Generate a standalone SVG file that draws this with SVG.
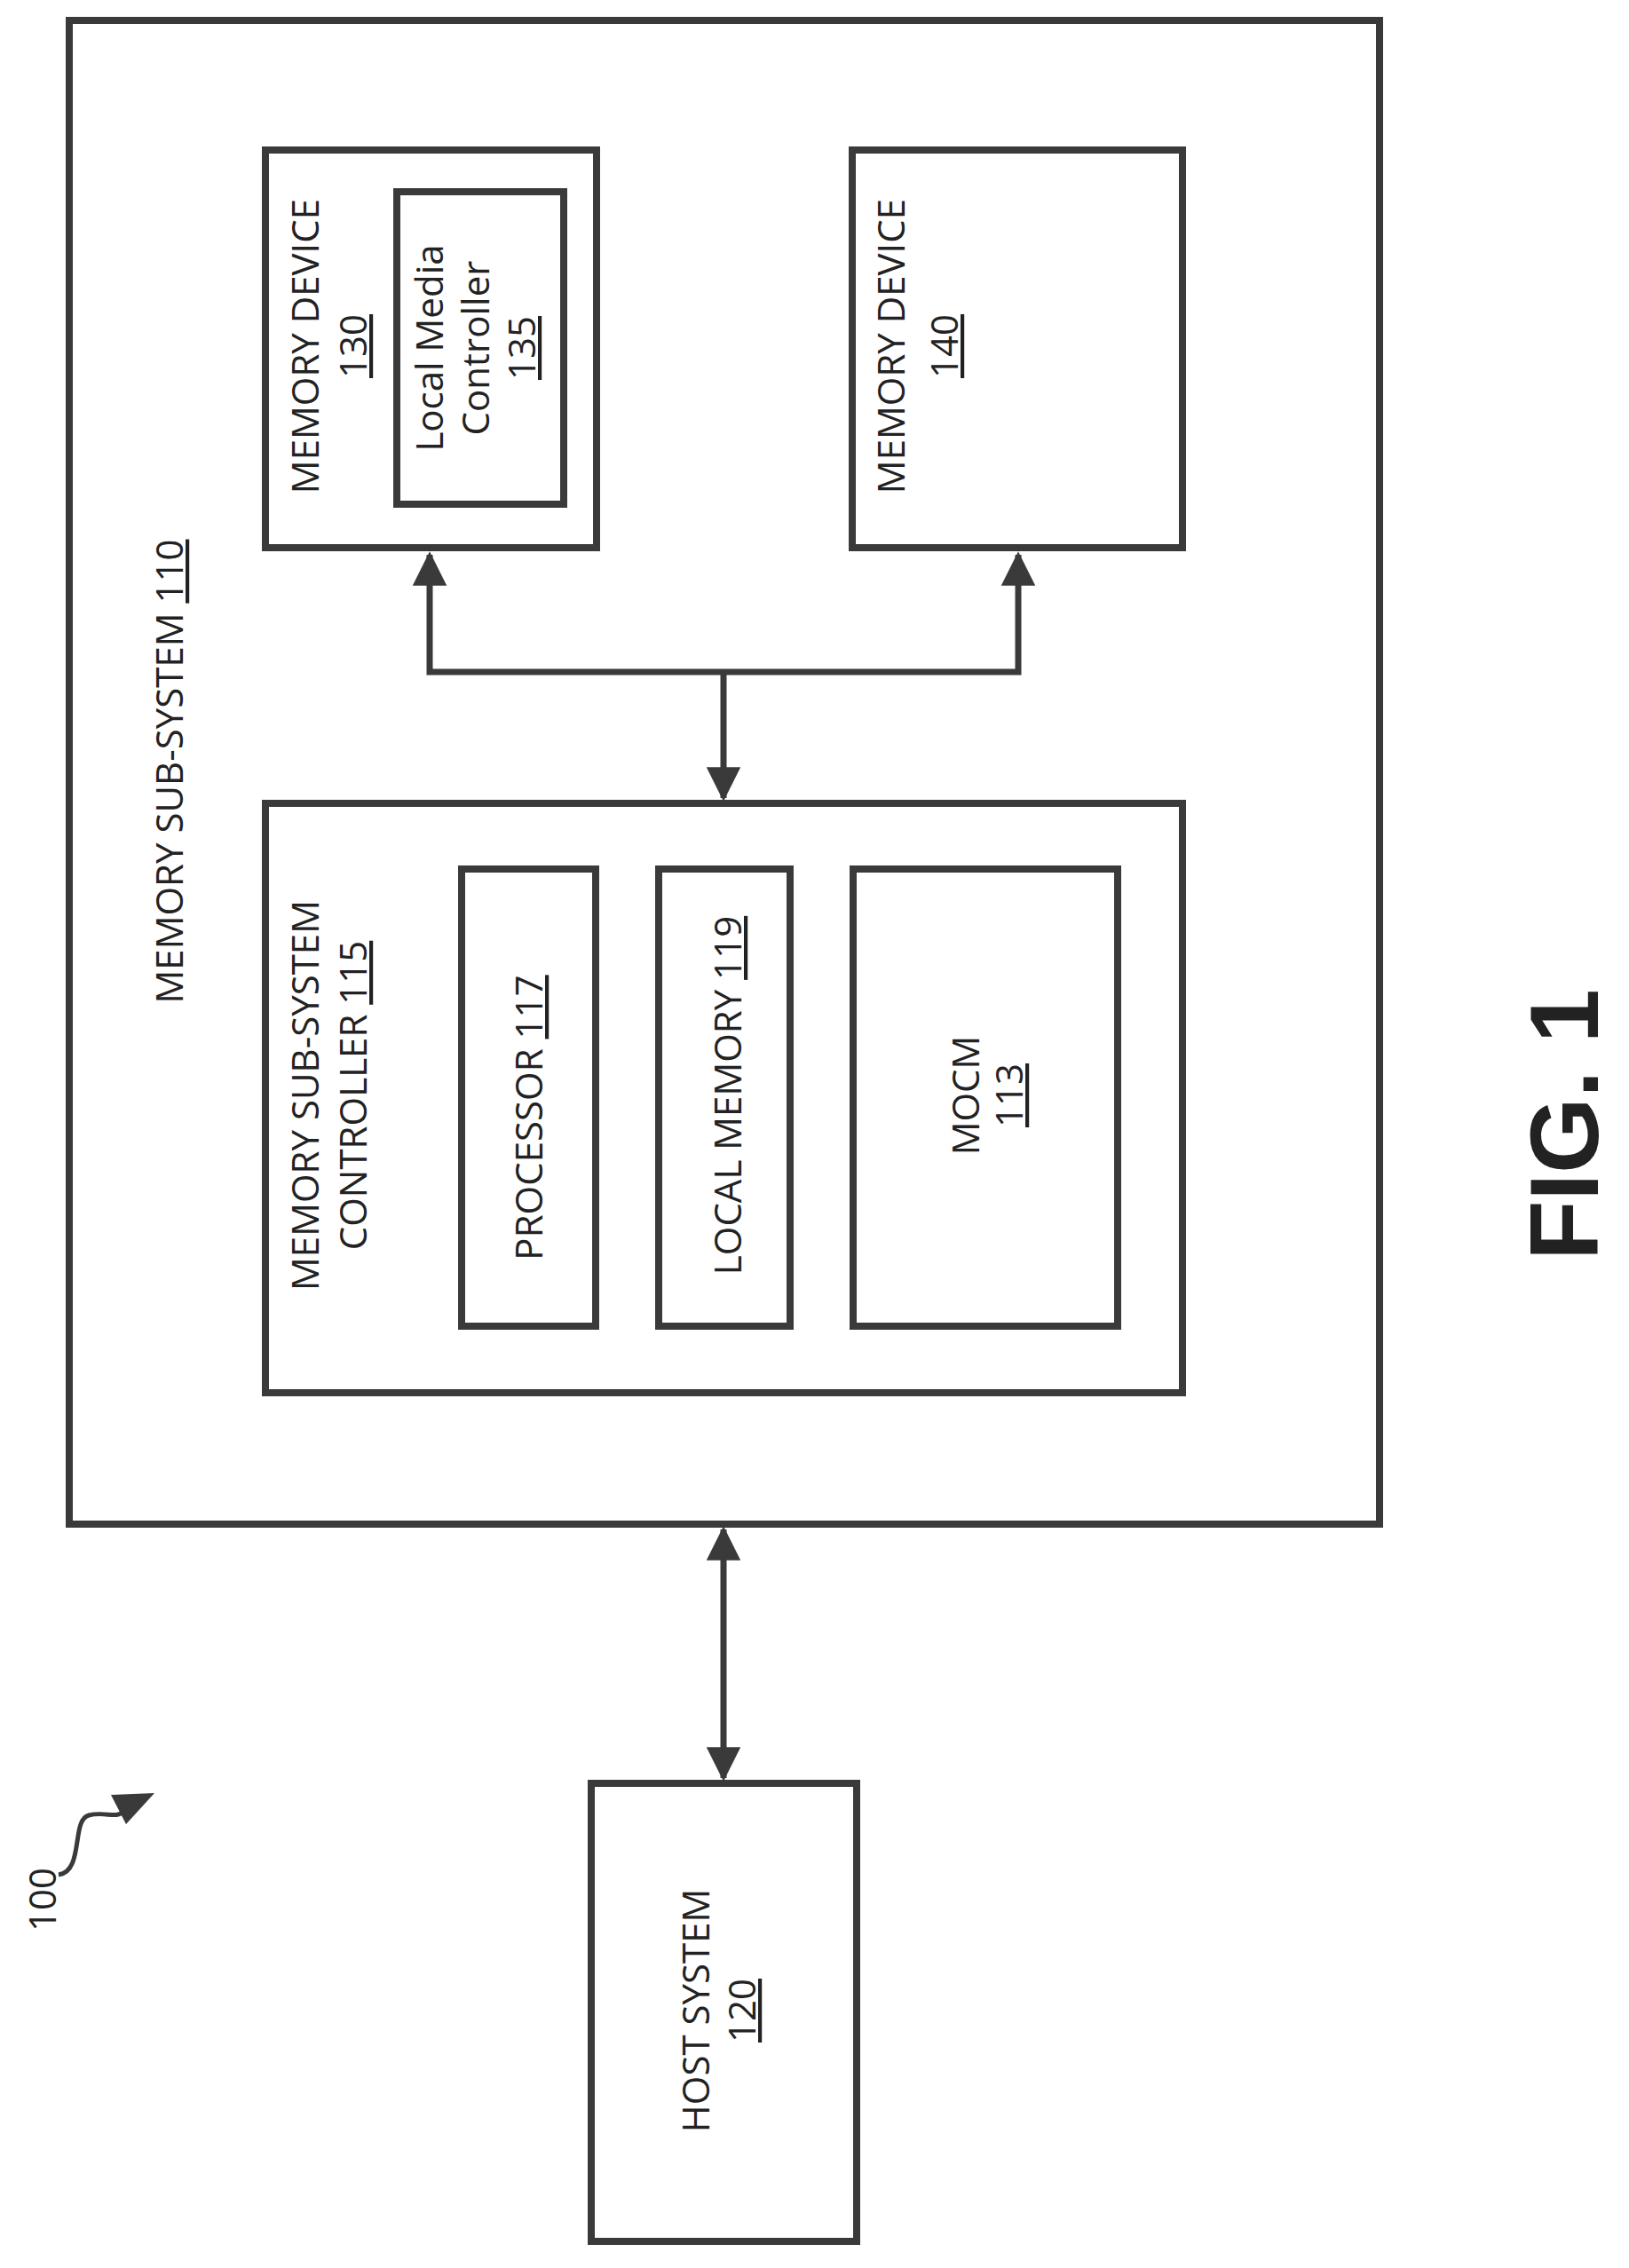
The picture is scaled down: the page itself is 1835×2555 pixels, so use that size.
<svg xmlns="http://www.w3.org/2000/svg" width="1835" height="2555" viewBox="0 0 1835 2555">
<style>
.b{fill:none;stroke:#3a3a3a;stroke-width:8}
.c{fill:none;stroke:#3a3a3a;stroke-width:7}
text{font-family:"Open Sans","Liberation Sans",sans-serif;font-size:42px;fill:#222;text-anchor:middle}
.u{text-decoration:underline}
</style>
<defs>
<marker id="a" viewBox="0 0 10 10" refX="9" refY="5" markerWidth="5.5" markerHeight="5.5" orient="auto-start-reverse" markerUnits="strokeWidth"><path d="M0,0 L10,5 L0,10 z" fill="#3a3a3a"/></marker>
</defs>
<g id="n110"><rect class="b" x="78" y="23" width="1476" height="1694"/>
<text transform="translate(206,869) rotate(-90)">MEMORY SUB-SYSTEM <tspan class="u">110</tspan></text></g>
<g id="n130"><rect class="b" x="299" y="169" width="373" height="448"/>
<text transform="translate(359,390) rotate(-90)">MEMORY DEVICE</text>
<text class="u" transform="translate(413,390) rotate(-90)">130</text></g>
<g id="n135"><rect class="b" x="447" y="216" width="188" height="352"/>
<text transform="translate(499,392) rotate(-90)">Local Media</text>
<text transform="translate(551,392) rotate(-90)">Controller</text>
<text class="u" transform="translate(603,392) rotate(-90)">135</text></g>
<g id="n140"><rect class="b" x="960" y="169" width="372" height="448"/>
<text transform="translate(1019,390) rotate(-90)">MEMORY DEVICE</text>
<text class="u" transform="translate(1079,390) rotate(-90)">140</text></g>
<g id="n115"><rect class="b" x="299" y="905" width="1033" height="664"/>
<text transform="translate(359,1234) rotate(-90)">MEMORY SUB-SYSTEM</text>
<text transform="translate(413,1234) rotate(-90)">CONTROLLER <tspan class="u">115</tspan></text></g>
<g id="n117"><rect class="b" x="520" y="979" width="151" height="515"/>
<text transform="translate(611,1259) rotate(-90)">PROCESSOR <tspan class="u">117</tspan></text></g>
<g id="n119"><rect class="b" x="742" y="979" width="148" height="515"/>
<text transform="translate(835,1234) rotate(-90)">LOCAL MEMORY <tspan class="u">119</tspan></text></g>
<g id="n113"><rect class="b" x="961" y="979" width="298" height="515"/>
<text transform="translate(1103,1234) rotate(-90)">MOCM</text>
<text class="u" transform="translate(1152,1234) rotate(-90)">113</text></g>
<g id="n120"><rect class="b" x="666" y="2009" width="299" height="516"/>
<text transform="translate(799,2265) rotate(-90)">HOST SYSTEM</text>
<text class="u" transform="translate(851,2265) rotate(-90)">120</text></g>
<g id="connectors">
<polyline class="c" points="484,625 484,757 1147,757 1147,625" marker-start="url(#a)" marker-end="url(#a)"/>
<line class="c" x1="815" y1="757" x2="815" y2="899" marker-end="url(#a)"/>
<line class="c" x1="815" y1="1723" x2="815" y2="2003" marker-start="url(#a)" marker-end="url(#a)"/>
</g>
<g id="ref100">
<text transform="translate(63,2140) rotate(-90)">100</text>
<path d="M66,2112 C95,2108 80,2050 100,2045 C120,2040 130,2050 140,2040" fill="none" stroke="#3a3a3a" stroke-width="5"/>
<path d="M125,2022 L174,2020 L142,2055 z" fill="#3a3a3a"/>
</g>
<text transform="translate(1800,1267) rotate(-90)" style="font-family:'Liberation Sans',sans-serif;font-weight:bold;font-size:110px;fill:#222">FIG. 1</text>
</svg>
